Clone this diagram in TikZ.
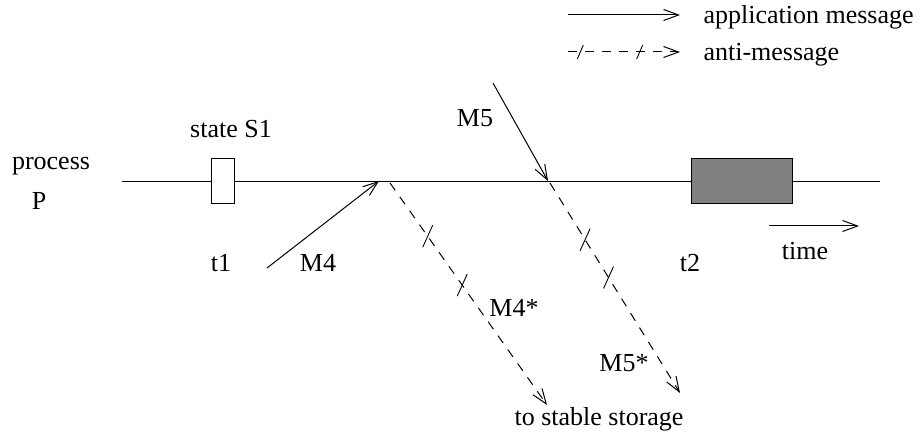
\documentclass[tikz,border=0pt]{standalone}
\usepackage{fontspec}
\setmainfont{Liberation Serif}
\usetikzlibrary{arrows.meta, calc}

\begin{document}
\begin{tikzpicture}[x=1pt, y=-1pt, line width=1pt,
  lbl/.style={inner sep=0pt, anchor=base, font=\fontsize{26}{30}\selectfont},
  msg/.style={-{Straight Barb[length=15pt,width=11pt]}},
  anti/.style={msg, dash pattern=on 9pt off 8pt},
  slash/.style={line width=0.9pt},
  statebox/.style={draw, minimum width=#1, minimum height=45pt, inner sep=0pt}]
  \useasboundingbox (0,0) rectangle (921,435);
  % process line with the states
  \coordinate (pstart) at (122,182);
  \coordinate (pend) at (880,182);
  \draw (pstart) -- (pend);
  \node[statebox=23pt, fill=white] (s1) at (222.5,181.5) {};
  \node[statebox=101pt, fill=gray] (ckpt) at (741.5,181) {};
  \node[lbl] (proc) at (51,170) {process};
  \node[lbl] (pname) at (39,210) {P};
  \node[lbl] (st) at (231,138) {state S1};
  \node[lbl] (t1) at (221,272) {t1};
  \node[lbl] (t2) at (690,272) {t2};
  % messages
  \coordinate (m4s) at (267,268);
  \coordinate (m4e) at (379,181);
  \draw[msg] (m4s) -- (m4e);
  \node[lbl] (m4) at (318,272) {M4};
  \coordinate (m5s) at (493,83);
  \coordinate (m5e) at (548,181);
  \draw[msg] (m5s) -- (m5e);
  \node[lbl] (m5) at (475,127) {M5};
  % anti-messages
  \coordinate (a4s) at (390,183);
  \coordinate (a4e) at (547,405);
  \coordinate (a5s) at (550,183);
  \coordinate (a5e) at (680,393);
  \draw[anti] (a4s) -- (a4e);
  \draw[anti] (a5s) -- (a5e);
  \foreach \a/\b/\p in {a4s/a4e/0.24, a4s/a4e/0.46, a5s/a5e/0.27, a5s/a5e/0.45}
    \draw[slash] ($(\a)!\p!(\b)$) ++(-5,11) -- ++(10,-22);
  \node[lbl] (m4a) at (514,317) {M4*};
  \node[lbl] (m5a) at (624,372) {M5*};
  \node[lbl] (store) at (599,425) {to stable storage};
  % time
  \coordinate (ts) at (769,226);
  \coordinate (te) at (859,226);
  \draw[msg] (ts) -- (te);
  \node[lbl] (time) at (805,260) {time};
  % legend
  \coordinate (l1s) at (568,15);
  \coordinate (l1e) at (680,15);
  \draw[msg] (l1s) -- (l1e);
  \node[lbl, anchor=base west] (lapp) at (703,24) {application message};
  \coordinate (l2s) at (568,52);
  \coordinate (l2e) at (680,52);
  \draw[anti] (l2s) -- (l2e);
  \foreach \p in {0.11, 0.64}
    \draw[slash] ($(l2s)!\p!(l2e)$) ++(-3,7) -- ++(6,-14);
  \node[lbl, anchor=base west] (lanti) at (703,61) {anti-message};
\end{tikzpicture}
\end{document}
